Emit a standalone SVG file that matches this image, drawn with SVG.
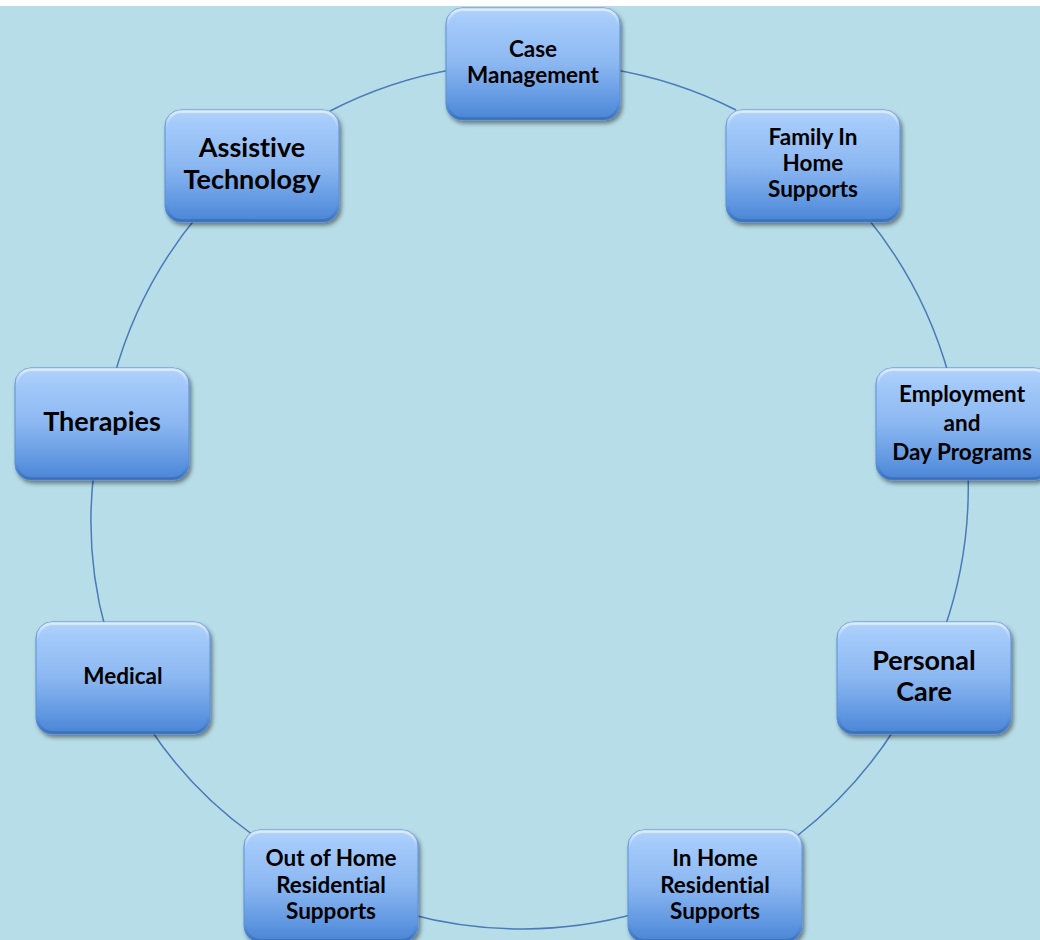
<svg xmlns="http://www.w3.org/2000/svg" width="1040" height="940" viewBox="0 0 1040 940">
<defs>
<linearGradient id="boxg" x1="0" y1="0" x2="0" y2="1">
<stop offset="0" stop-color="#b3d4fb"/>
<stop offset="0.12" stop-color="#a4cafa"/>
<stop offset="0.5" stop-color="#8bb7f1"/>
<stop offset="0.85" stop-color="#5d95e0"/>
<stop offset="1" stop-color="#4a84d3"/>
</linearGradient>
<linearGradient id="rimg" x1="0" y1="0" x2="0" y2="1">
<stop offset="0" stop-color="#ffffff" stop-opacity="0.55"/>
<stop offset="0.15" stop-color="#ffffff" stop-opacity="0"/>
<stop offset="0.85" stop-color="#1f4f9a" stop-opacity="0"/>
<stop offset="1" stop-color="#1f4f9a" stop-opacity="0.35"/>
</linearGradient>
<filter id="shadow" x="-10%" y="-10%" width="125%" height="130%">
<feDropShadow dx="2" dy="3" stdDeviation="2" flood-color="#000000" flood-opacity="0.45"/>
</filter>
</defs>
<style>
.box{fill:url(#boxg);stroke:#5a8fd8;stroke-width:1;filter:url(#shadow)}
.rim{fill:none;stroke:url(#rimg);stroke-width:3}
.t{font-family:Lato,"Liberation Sans",sans-serif;font-weight:bold;fill:#000;text-anchor:middle;font-variant-ligatures:none}
.s{font-size:22.5px}
.l{font-size:27px}
.conn{fill:none;stroke:#4a7ab8;stroke-width:1.5}
</style>
<rect x="0" y="0" width="1040" height="940" fill="#ffffff"/>
<rect x="0" y="6" width="1040" height="934" fill="#b7dde8"/>
<g id="connectors">
<path class="conn" d="M610,69 A432,432 0 0 1 736,110"/>
<path class="conn" d="M866,216 A432,432 0 0 1 949,376"/>
<path class="conn" d="M968,472 A432,432 0 0 1 944,630"/>
<path class="conn" d="M896,727 A432,432 0 0 1 797,836"/>
<path class="conn" d="M638,913 A432,432 0 0 1 409,914"/>
<path class="conn" d="M253,835 A410,410 0 0 1 149,727"/>
<path class="conn" d="M106,631 A410,410 0 0 1 94,471"/>
<path class="conn" d="M114,377 A432,432 0 0 1 199,214"/>
<path class="conn" d="M330,111 A432,432 0 0 1 456,69"/>
</g>
<g id="case-management">
<rect class="box" x="446" y="8" width="174" height="112" rx="16"/>
<rect class="rim" x="447.5" y="9.5" width="171" height="109" rx="15"/>
<text class="t s" x="533" y="57">Case</text>
<text class="t s" x="533" y="83">Management</text>
</g>
<g id="family-in-home-supports">
<rect class="box" x="726" y="110" width="174" height="112" rx="16"/>
<rect class="rim" x="727.5" y="111.5" width="171" height="109" rx="15"/>
<text class="t s" x="813" y="145">Family In</text>
<text class="t s" x="813" y="171">Home</text>
<text class="t s" x="813" y="197">Supports</text>
</g>
<g id="employment-day-programs">
<rect class="box" x="876" y="368" width="174" height="112" rx="16"/>
<rect class="rim" x="877.5" y="369.5" width="171" height="109" rx="15"/>
<text class="t s" x="962" y="402">Employment</text>
<text class="t s" x="962" y="431">and</text>
<text class="t s" x="962" y="460">Day Programs</text>
</g>
<g id="personal-care">
<rect class="box" x="837" y="622" width="174" height="112" rx="16"/>
<rect class="rim" x="838.5" y="623.5" width="171" height="109" rx="15"/>
<text class="t l" x="924" y="670">Personal</text>
<text class="t l" x="924" y="701">Care</text>
</g>
<g id="in-home-residential-supports">
<rect class="box" x="628" y="830" width="174" height="112" rx="16"/>
<rect class="rim" x="629.5" y="831.5" width="171" height="109" rx="15"/>
<text class="t s" x="715" y="866">In Home</text>
<text class="t s" x="715" y="893">Residential</text>
<text class="t s" x="715" y="919">Supports</text>
</g>
<g id="out-of-home-residential-supports">
<rect class="box" x="244" y="830" width="174" height="112" rx="16"/>
<rect class="rim" x="245.5" y="831.5" width="171" height="109" rx="15"/>
<text class="t s" x="331" y="866">Out of Home</text>
<text class="t s" x="331" y="893">Residential</text>
<text class="t s" x="331" y="919">Supports</text>
</g>
<g id="medical">
<rect class="box" x="36" y="622" width="174" height="112" rx="16"/>
<rect class="rim" x="37.5" y="623.5" width="171" height="109" rx="15"/>
<text class="t s" x="123" y="684">Medical</text>
</g>
<g id="therapies">
<rect class="box" x="15" y="368" width="174" height="112" rx="16"/>
<rect class="rim" x="16.5" y="369.5" width="171" height="109" rx="15"/>
<text class="t l" x="102" y="431">Therapies</text>
</g>
<g id="assistive-technology">
<rect class="box" x="165" y="110" width="174" height="112" rx="16"/>
<rect class="rim" x="166.5" y="111.5" width="171" height="109" rx="15"/>
<text class="t l" x="252" y="157">Assistive</text>
<text class="t l" x="252" y="189">Technology</text>
</g>
</svg>
